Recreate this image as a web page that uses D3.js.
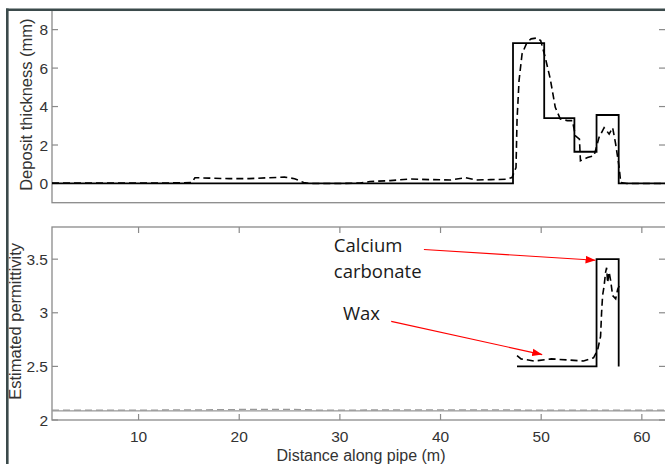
<!DOCTYPE html>
<html>
<head>
<meta charset="utf-8">
<script src="https://cdn.jsdelivr.net/npm/d3@7"></script>
<style>
  body { margin: 0; background: #fff; }
  svg { display: block; font-family: "Liberation Sans", Arial, sans-serif; }
</style>
</head>
<body>
<svg id="chart" width="665" height="464"></svg>
<script>
// Deposit thickness: measured step profile (solid) and estimate (dashed)
var thickStepX = [1.4, 47.2, 50.3, 53.3, 55.5, 57.7, 62.4];
var thickStepY = [0, 7.3, 3.4, 1.65, 3.56, 0, 0];

var thickEstX = [1.4, 5, 10, 14, 15.3, 15.6, 17, 19, 21, 23, 24.5, 25.5, 26.4, 27, 30, 32, 33, 35, 37, 39, 41, 42.5, 43.5, 45, 46.5, 47.1,
  47.5, 47.6, 47.8, 48.1, 48.6, 49, 49.6, 49.95, 50.4, 50.9, 51.4, 51.9, 52.6, 53.1, 53.4, 53.8, 53.9, 54.6, 55.25, 55.75, 56.25, 56.75,
  57.1, 57.4, 57.75, 57.9, 58.5, 62.4];
var thickEstY = [0.02, 0.02, 0.02, 0.03, 0.05, 0.3, 0.28, 0.25, 0.25, 0.3, 0.33, 0.25, 0.05, 0, 0, 0.02, 0.1, 0.15, 0.23, 0.2, 0.18, 0.3, 0.18, 0.2, 0.22, 0.31,
  0.83, 3.3, 5.35, 6.74, 7.35, 7.52, 7.57, 7.43, 6.56, 5.44, 3.96, 3.35, 3.27, 3.27, 2.48, 2.3, 1.18, 1.35, 1.44, 2.4, 2.9, 2.57,
  2.9, 2.05, 0.83, 0.05, 0, 0];

// Permittivity: true values (solid) and estimate (dashed)
var permTrueX = [47.6, 55.5, 55.5, 57.7, 57.7];
var permTrueY = [2.5, 2.5, 3.5, 3.5, 2.5];

var permEstX = [47.6, 48, 49.3, 51, 52.6, 54.2, 55.2, 55.6, 55.9, 56.0, 56.1, 56.25, 56.4, 56.5, 56.6, 56.75, 56.9, 57.1, 57.4, 57.6, 57.75];
var permEstY = [2.6, 2.57, 2.55, 2.57, 2.56, 2.55, 2.58, 2.65, 2.78, 3.0, 3.16, 3.25, 3.38, 3.42, 3.28, 3.38, 3.3, 3.16, 3.13, 3.22, 3.25];

// background (pipe) permittivity, grey
var pipeTrueX = [1.4, 62.4];
var pipeTrueY = [2.085, 2.085];
var pipeEstX = [1.4, 10, 18, 22, 25, 28, 40, 45, 50, 62.4];
var pipeEstY = [2.092, 2.092, 2.096, 2.1, 2.1, 2.092, 2.095, 2.095, 2.092, 2.092];

var xTicks = [10, 20, 30, 40, 50, 60];
var topTicks = [0, 2, 4, 6, 8];
var botTicks = [2, 2.5, 3, 3.5];

// annotations: label lines, text anchor, arrow from / to (data units of lower panel)
var noteLabels = [["Calcium", "carbonate"], ["Wax"]];
var noteText = [[29.4, 3.567], [30.3, 2.935]];
var noteFrom = [[38.35, 3.59], [35.1, 2.92]];
var noteTo = [[55.4, 3.49], [50.1, 2.61]];

var svg = d3.select("#chart");
var left = 52, right = 666;

var x = d3.scaleLinear().domain([1.4, 62.4]).range([left, right]);
var yTop = d3.scaleLinear().domain([-1, 9]).range([202.7, 10.4]);
var yBot = d3.scaleLinear().domain([2, 3.8]).range([420, 227]);

var axisColor = "#8a8a8a", textColor = "#333";

svg.append("rect").attr("width", 665).attr("height", 464).attr("fill", "#fff");

var defs = svg.append("defs");
defs.append("clipPath").attr("id", "clipTop").append("rect")
  .attr("x", left).attr("y", yTop(9)).attr("width", right - left).attr("height", yTop(-1) - yTop(9));
defs.append("clipPath").attr("id", "clipBot").append("rect")
  .attr("x", left).attr("y", yBot(3.8)).attr("width", right - left).attr("height", yBot(2) - yBot(3.8));
defs.append("marker")
  .attr("id", "arrow")
  .attr("viewBox", "0 0 10 10")
  .attr("refX", 10).attr("refY", 5)
  .attr("markerWidth", 10).attr("markerHeight", 10)
  .attr("markerUnits", "userSpaceOnUse")
  .attr("orient", "auto")
  .append("path").attr("d", "M0,1.2 L10,5 L0,8.8 Z").attr("fill", "#ff0000");

function zipXY(xs, ys) {
  return xs.map(function(v, i) { return [v, ys[i]]; });
}

// draws a panel box with inside ticks
function drawPanel(y, yTicks, showX) {
  var g = svg.append("g");
  var y0 = y.range()[0], y1 = y.range()[1];
  g.append("rect")
    .attr("x", left).attr("y", y1)
    .attr("width", right - left).attr("height", y0 - y1)
    .attr("fill", "none").attr("stroke", axisColor).attr("stroke-width", 1.3);

  g.selectAll(".ytickL").data(yTicks).enter().append("line")
    .attr("x1", left).attr("x2", left + 6)
    .attr("y1", function(d) { return y(d); }).attr("y2", function(d) { return y(d); })
    .attr("stroke", axisColor).attr("stroke-width", 1.2);
  g.selectAll(".ytickR").data(yTicks).enter().append("line")
    .attr("x1", right - 7).attr("x2", right)
    .attr("y1", function(d) { return y(d); }).attr("y2", function(d) { return y(d); })
    .attr("stroke", axisColor).attr("stroke-width", 1.2);
  g.selectAll(".ylab").data(yTicks).enter().append("text")
    .attr("x", left - 4).attr("y", function(d) { return y(d); })
    .attr("dy", "0.36em")
    .attr("text-anchor", "end")
    .attr("font-size", "15.5px").attr("fill", textColor)
    .text(function(d) { return d; });

  if (showX) {
    g.selectAll(".xtickB").data(xTicks).enter().append("line")
      .attr("x1", function(d) { return x(d); }).attr("x2", function(d) { return x(d); })
      .attr("y1", y0).attr("y2", y0 - 6)
      .attr("stroke", axisColor).attr("stroke-width", 1.2);
    g.selectAll(".xtickT").data(xTicks).enter().append("line")
      .attr("x1", function(d) { return x(d); }).attr("x2", function(d) { return x(d); })
      .attr("y1", y1).attr("y2", y1 + 6)
      .attr("stroke", axisColor).attr("stroke-width", 1.2);
    g.selectAll(".xlab").data(xTicks).enter().append("text")
      .attr("x", function(d) { return x(d); }).attr("y", y0 + 22)
      .attr("text-anchor", "middle")
      .attr("font-size", "15.5px").attr("fill", textColor)
      .text(function(d) { return d; });
  }
}

function drawLine(y, clip, xs, ys, color, dashed, width, curve) {
  var line = d3.line()
    .x(function(d) { return x(d[0]); })
    .y(function(d) { return y(d[1]); })
    .curve(curve || d3.curveLinear);
  svg.append("path")
    .datum(zipXY(xs, ys))
    .attr("clip-path", "url(#" + clip + ")")
    .attr("d", line)
    .attr("fill", "none")
    .attr("stroke", color)
    .attr("stroke-width", width)
    .attr("stroke-dasharray", dashed ? "7,4" : null)
    .attr("stroke-linejoin", "miter");
}

// Top panel: deposit thickness
drawPanel(yTop, topTicks, false);
drawLine(yTop, "clipTop", thickStepX, thickStepY, "#000", false, 1.8, d3.curveStepAfter);
drawLine(yTop, "clipTop", thickEstX, thickEstY, "#000", true, 1.6);

// Bottom panel: permittivity
drawPanel(yBot, botTicks, true);
drawLine(yBot, "clipBot", pipeTrueX, pipeTrueY, "#999", false, 1.4);
drawLine(yBot, "clipBot", pipeEstX, pipeEstY, "#999", true, 1.3);
drawLine(yBot, "clipBot", permTrueX, permTrueY, "#000", false, 1.8);
drawLine(yBot, "clipBot", permEstX, permEstY, "#000", true, 1.6);

// axis titles
svg.append("text")
  .attr("transform", "translate(32," + yTop(4.1) + ") rotate(-90)")
  .attr("text-anchor", "middle")
  .attr("font-size", "16.5px").attr("fill", textColor)
  .text("Deposit thickness (mm)");
svg.append("text")
  .attr("transform", "translate(20.5," + yBot(2.92) + ") rotate(-90)")
  .attr("text-anchor", "middle")
  .attr("font-size", "16.5px").attr("fill", textColor)
  .text("Estimated permittivity");
svg.append("text")
  .attr("x", (left + right) / 2 + 2).attr("y", 461)
  .attr("text-anchor", "middle")
  .attr("font-size", "16px").attr("fill", textColor)
  .text("Distance along pipe (m)");

// annotations with red arrows
noteLabels.forEach(function(lines, i) {
  var t = svg.append("text")
    .attr("font-family", "'Open Sans', sans-serif")
    .attr("font-size", "18.5px").attr("fill", "#1a1a1a");
  lines.forEach(function(s, j) {
    t.append("tspan")
      .attr("x", x(noteText[i][0]))
      .attr("y", yBot(noteText[i][1]) + j * 26)
      .text(s);
  });
  svg.append("line")
    .attr("x1", x(noteFrom[i][0])).attr("y1", yBot(noteFrom[i][1]))
    .attr("x2", x(noteTo[i][0])).attr("y2", yBot(noteTo[i][1]))
    .attr("stroke", "#ff0000").attr("stroke-width", 1.2)
    .attr("marker-end", "url(#arrow)");
});

// outer frame (dark border at top and left)
svg.append("line").attr("x1", 6).attr("x2", 665).attr("y1", 9.8).attr("y2", 9.8)
  .attr("stroke", "#3b4a4b").attr("stroke-width", 2.6);
svg.append("line").attr("x1", 7.3).attr("x2", 7.3).attr("y1", 8.5).attr("y2", 464)
  .attr("stroke", "#3b4a4b").attr("stroke-width", 2.6);
</script>
</body>
</html>
